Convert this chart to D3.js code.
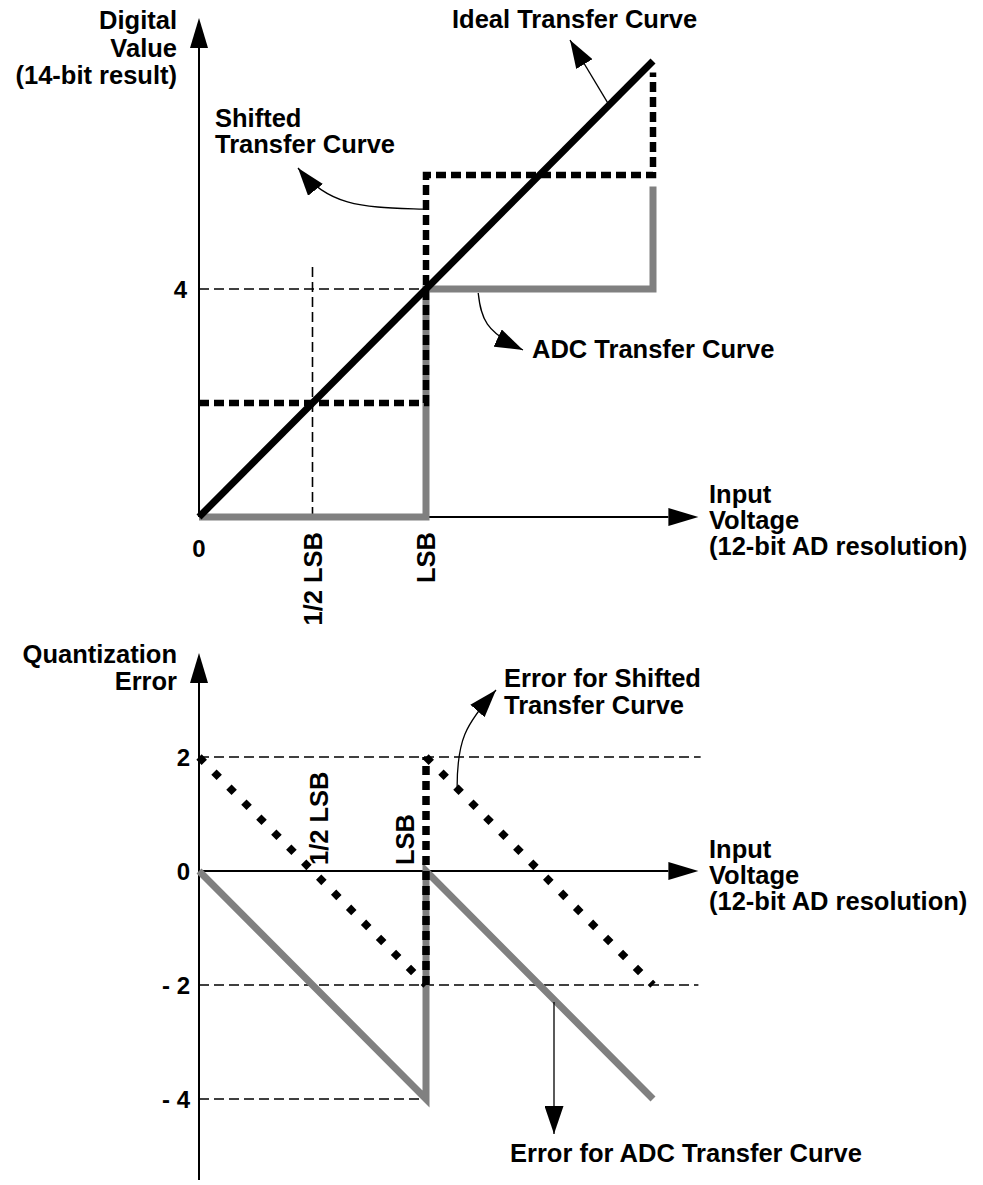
<!DOCTYPE html>
<html>
<head>
<meta charset="utf-8">
<script src="https://cdn.jsdelivr.net/npm/d3@7"></script>
<style>
  body { margin: 0; background: #fff; }
  svg text { font-family: "Liberation Sans", Arial, Helvetica, sans-serif; font-weight: bold; fill: #000; }
</style>
</head>
<body>
<svg id="chart" width="983" height="1185"></svg>
<script>
// ---- data (x in LSB of the 12-bit converter, y in 14-bit counts) ----
const idealCurve   = [[0, 0], [2, 8]];
const adcCurve     = [[0, 0], [1, 0], [1, 4], [2, 4], [2, 5.8]];
const shiftedCurve = [[0, 2], [1, 2], [1, 6], [2, 6], [2, 7.8]];

const adcError          = [[0, 0], [1, -4], [1, 0], [2, -4]];
const shiftedErrorRamps = [[[0, 2], [1, -2]], [[1, 2], [2, -2]]];
const shiftedErrorJump  = [[1, -2], [1, 2]];

// guide lines: [x0, y0, x1, y1]
const topGuides    = [[0, 4, 1, 4], [0.5, 0, 0.5, 4.42]];
const bottomGuides = [[0, 2, 2.21, 2], [0, -2, 2.2, -2], [0, -4, 1, -4]];

// tick labels (side: which side of the tick line the rotated text sits on)
const topYLabels    = [{ v: 4, text: "4" }];
const topXLabels    = [{ v: 0.5, text: "1/2 LSB", side: 1 }, { v: 1, text: "LSB", side: 1 }];
const bottomYLabels = [{ v: 2, text: "2" }, { v: 0, text: "0" }, { v: -2, text: "- 2" }, { v: -4, text: "- 4" }];
const bottomXLabels = [{ v: 0.5, text: "1/2 LSB", side: 1 }, { v: 1, text: "LSB", side: -1 }];

// axis titles
const topYTitle    = ["Digital", "Value", "(14-bit result)"];
const bottomYTitle = ["Quantization", "Error"];
const xTitle       = ["Input", "Voltage", "(12-bit AD resolution)"];

// ---- scales ----
const x  = d3.scaleLinear().domain([0, 2]).range([199, 653]);
const yT = d3.scaleLinear().domain([0, 8]).range([517, 61]);
const yB = d3.scaleLinear().domain([-4, 2]).range([1099, 757]);

const svg = d3.select("#chart");
const GREY = "#808080";
const FS = 25.5;

const defs = svg.append("defs");
defs.append("marker")
  .attr("id", "head")
  .attr("markerUnits", "userSpaceOnUse")
  .attr("viewBox", "0 0 28 19")
  .attr("markerWidth", 28).attr("markerHeight", 19)
  .attr("refX", 28).attr("refY", 9.5)
  .attr("orient", "auto")
  .append("path").attr("d", "M0,0 L28,9.5 L0,19 Z").attr("fill", "#000");

function lineFor(ys) {
  return d3.line().x(d => x(d[0])).y(d => ys(d[1]));
}

// axis with filled arrowhead at its far end
function axisArrow(x1, y1, x2, y2) {
  const ang = Math.atan2(y2 - y1, x2 - x1);
  const L = 30, W = 9;
  const bx = x2 - L * Math.cos(ang), by = y2 - L * Math.sin(ang);
  svg.append("line")
    .attr("x1", x1).attr("y1", y1).attr("x2", bx).attr("y2", by)
    .attr("stroke", "#000").attr("stroke-width", 2);
  const px = -Math.sin(ang) * W, py = Math.cos(ang) * W;
  svg.append("path")
    .attr("d", `M${x2},${y2} L${bx + px},${by + py} L${bx - px},${by - py} Z`)
    .attr("fill", "#000");
}

function multiline(lines, xPos, y0, dy, anchor) {
  const t = svg.append("text").attr("font-size", FS).attr("text-anchor", anchor);
  lines.forEach((s, i) => t.append("tspan").attr("x", xPos).attr("y", y0 + i * dy).text(s));
}

function guides(list, ys) {
  list.forEach(g => {
    svg.append("line")
      .attr("x1", x(g[0])).attr("y1", ys(g[1]))
      .attr("x2", x(g[2])).attr("y2", ys(g[3]))
      .attr("stroke", "#000").attr("stroke-width", 1.6)
      .attr("stroke-dasharray", "10 5");
  });
}

// vertical tick labels reading upward; baseline offset to either side of the tick
function rotatedLabels(list, baseY, gapRight, gapLeft, anchor) {
  list.forEach(d => {
    const dx = d.side > 0 ? gapRight : -gapLeft;
    svg.append("text")
      .attr("font-size", FS)
      .attr("text-anchor", anchor)
      .attr("transform", `translate(${x(d.v) + dx},${baseY}) rotate(-90)`)
      .text(d.text);
  });
}

function annotationPath(d) {
  svg.append("path")
    .attr("d", d)
    .attr("fill", "none").attr("stroke", "#000").attr("stroke-width", 1.3)
    .attr("marker-end", "url(#head)");
}

// ================= upper chart: transfer curves =================
guides(topGuides, yT);

axisArrow(x(0), yT(0), x(0), 18);
axisArrow(x(0), yT(0), x(2.2), yT(0));

// ADC staircase (grey)
svg.append("path").attr("d", lineFor(yT)(adcCurve))
  .attr("fill", "none").attr("stroke", GREY).attr("stroke-width", 7)
  .attr("stroke-linejoin", "miter");

// shifted staircase (heavy dashes)
svg.append("path").attr("d", lineFor(yT)(shiftedCurve))
  .attr("fill", "none").attr("stroke", "#000").attr("stroke-width", 6.5)
  .attr("stroke-dasharray", "10 5");

// ideal straight line
svg.append("path").attr("d", lineFor(yT)(idealCurve))
  .attr("fill", "none").attr("stroke", "#000").attr("stroke-width", 7);

// tick labels
topYLabels.forEach(d => {
  svg.append("text").attr("font-size", 24).attr("text-anchor", "end")
    .attr("x", 187).attr("y", yT(d.v) + 8.5).text(d.text);
});
svg.append("text").attr("font-size", 24).attr("text-anchor", "middle")
  .attr("x", x(0)).attr("y", 557).text("0");
rotatedLabels(topXLabels, 532, 9, 13, "end");

// titles
multiline(topYTitle, 177, 29, 27.5, "end");
multiline(xTitle, 709, yT(0) - 14, 26, "start");

// annotations
svg.append("text").attr("font-size", FS).attr("x", 452).attr("y", 28).text("Ideal Transfer Curve");
annotationPath(`M${x(1.8)},${yT(7.2) - 4} L570,40`);

multiline(["Shifted", "Transfer Curve"], 215, 127, 26, "start");
annotationPath(`M${x(1) - 3},${yT(5.4)} C365,207 330,208 298,168`);

svg.append("text").attr("font-size", FS).attr("x", 532).attr("y", 358).text("ADC Transfer Curve");
annotationPath(`M${x(1.23)},${yT(4) + 4} C481,318 485,332 523,350`);

// ================= lower chart: quantization error =================
guides(bottomGuides, yB);

axisArrow(x(0), 1180, x(0), 653);
axisArrow(x(0), yB(0), x(2.2), yB(0));

// ADC error sawtooth (grey)
svg.append("path").attr("d", lineFor(yB)(adcError))
  .attr("fill", "none").attr("stroke", GREY).attr("stroke-width", 7)
  .attr("stroke-linejoin", "miter");

// shifted error: dotted ramps and dashed jump
shiftedErrorRamps.forEach(seg => {
  svg.append("path").attr("d", lineFor(yB)(seg))
    .attr("fill", "none").attr("stroke", "#000").attr("stroke-width", 7.5)
    .attr("stroke-dasharray", "7.5 13.7");
});
svg.append("path").attr("d", lineFor(yB)(shiftedErrorJump))
  .attr("fill", "none").attr("stroke", "#000").attr("stroke-width", 7.5)
  .attr("stroke-dasharray", "9 6");

bottomYLabels.forEach(d => {
  svg.append("text").attr("font-size", 24).attr("text-anchor", "end")
    .attr("x", 190).attr("y", yB(d.v) + 8.5).text(d.text);
});
rotatedLabels(bottomXLabels, 865, 15, 12, "start");

multiline(bottomYTitle, 177, 663, 27, "end");
multiline(xTitle, 709, yB(0) - 13, 26, "start");

multiline(["Error for Shifted", "Transfer Curve"], 504, 687, 27, "start");
annotationPath(`M${x(1.137)},${yB(1.45)} C457,740 465,725 496,690`);

svg.append("text").attr("font-size", FS).attr("x", 510).attr("y", 1162).text("Error for ADC Transfer Curve");
annotationPath(`M554,${yB(-2.3)} L554,1134`);
</script>
</body>
</html>
